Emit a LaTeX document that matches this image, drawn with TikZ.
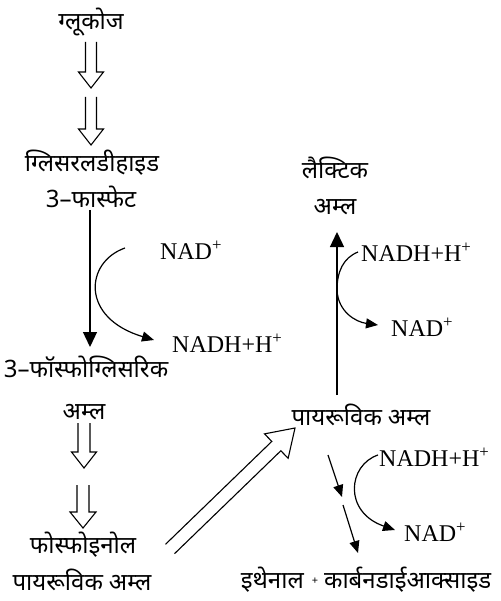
\documentclass[tikz,border=0pt]{standalone}
\usepackage{fontspec}
\setmainfont{Liberation Serif}
\newfontfamily\devfont[Script=Devanagari]{Noto Sans}
\usetikzlibrary{arrows.meta,calc}
\tikzset{
  dv/.style={font=\devfont\fontsize{24}{28}\selectfont, inner sep=0pt},
  lt/.style={font=\fontsize{24}{28}\selectfont, inner sep=0pt},
  hollow/.style={line width=1.1pt, line join=miter},
  arr/.style={line width=1.3pt, -{Triangle[length=15pt,width=14pt]}},
  carr/.style={line width=1.2pt, -{Triangle[length=12pt,width=10pt]}},
}
\newcommand\HollowArr[5]{%
  \coordinate (hb) at ($(#2)!#4!(#1)$);
  \draw[hollow] ($(#1)!#3!90:(#2)$) -- ($(hb)!#3!-90:(#1)$) -- ($(hb)!#5!-90:(#1)$)
    -- (#2) -- ($(hb)!#5!90:(#1)$) -- ($(hb)!#3!90:(#1)$) -- ($(#1)!#3!-90:(#2)$);
}
\begin{document}
\begin{tikzpicture}[x=1pt,y=-1pt]
\useasboundingbox (0,0) rectangle (500,601);
% left column texts
\node[dv] (glu) at (91,22) {ग्लूकोज};
\node[dv] (gla) at (92,163) {ग्लिसरलडीहाइड};
\node[dv] (glb) at (91,197) {3–फास्फेट};
\node[lt] (nad1) at (191,250) {NAD\textsuperscript{+}};
\node[lt,anchor=west] (nadh1) at (172,343) {NADH+H\textsuperscript{+}};
\node[dv] (pga) at (86,367) {3–फॉस्फोग्लिसरिक};
\node[dv] (pgb) at (84,412) {अम्ल};
\node[dv] (pepa) at (83,545) {फोस्फोइनोल};
\node[dv] (pepb) at (82,580) {पायरूविक\hspace{6pt}अम्ल};
% right texts
\node[dv] (laca) at (335,168) {लैक्टिक};
\node[dv] (lacb) at (335,207) {अम्ल};
\node[lt,anchor=west] (nadh2) at (361,252) {NADH+H\textsuperscript{+}};
\node[lt,anchor=west] (nad2) at (391,327) {NAD\textsuperscript{+}};
\node[dv] (pyr) at (361,415) {पायरूविक\hspace{6pt}अम्ल};
\node[lt,anchor=west] (nadh3) at (379,457) {NADH+H\textsuperscript{+}};
\node[lt,anchor=west] (nad3) at (404,532) {NAD\textsuperscript{+}};
\node[dv] (eth) at (366,580) {इथेनाल\hspace{8pt}\raisebox{4pt}{\fontsize{11}{12}\selectfont+}\hspace{6pt}कार्बनडाईआक्साइड};
% hollow arrows
\coordinate (h1s) at (91,42);  \coordinate (h1e) at (91,88);
\coordinate (h2s) at (91,97);  \coordinate (h2e) at (91,145);
\coordinate (h3s) at (84,423); \coordinate (h3e) at (84,468);
\coordinate (h4s) at (83,485); \coordinate (h4e) at (83,528);
\coordinate (h5s) at (170,549); \coordinate (h5e) at (295,428);
\HollowArr{h1s}{h1e}{5.5pt}{16pt}{12.5pt}
\HollowArr{h2s}{h2e}{5.5pt}{16pt}{12.5pt}
\HollowArr{h3s}{h3e}{6pt}{16pt}{12.5pt}
\HollowArr{h4s}{h4e}{6pt}{16pt}{13pt}
\HollowArr{h5s}{h5e}{6.5pt}{26pt}{17pt}
% left straight arrow and side curve
\coordinate (l1s) at (90,210); \coordinate (l1e) at (90,347);
\draw[arr] (l1s) -- (l1e);
\coordinate (c1s) at (125,248); \coordinate (c1e) at (154,340);
\draw[carr] (c1s) .. controls (85,262) and (80,318) .. (c1e);
% right upper arrow and curve
\coordinate (r1s) at (337,395); \coordinate (r1e) at (337,232);
\draw[arr] (r1s) -- (r1e);
\coordinate (c2s) at (358,252); \coordinate (c2m) at (337,290); \coordinate (c2e) at (378,325);
\draw[carr] (c2s) .. controls (343,258) and (337,272) .. (c2m) .. controls (338,312) and (356,322) .. (c2e);
% lower right arrows and curve
\coordinate (a1s) at (328,455); \coordinate (a1e) at (342,497);
\coordinate (a2s) at (343,505); \coordinate (a2e) at (358,553);
\draw[carr] (a1s) -- (a1e);
\draw[carr] (a2s) -- (a2e);
\coordinate (c3s) at (378,455); \coordinate (c3e) at (395,530);
\draw[carr] (c3s) .. controls (348,465) and (343,512) .. (c3e);
\end{tikzpicture}
\end{document}
